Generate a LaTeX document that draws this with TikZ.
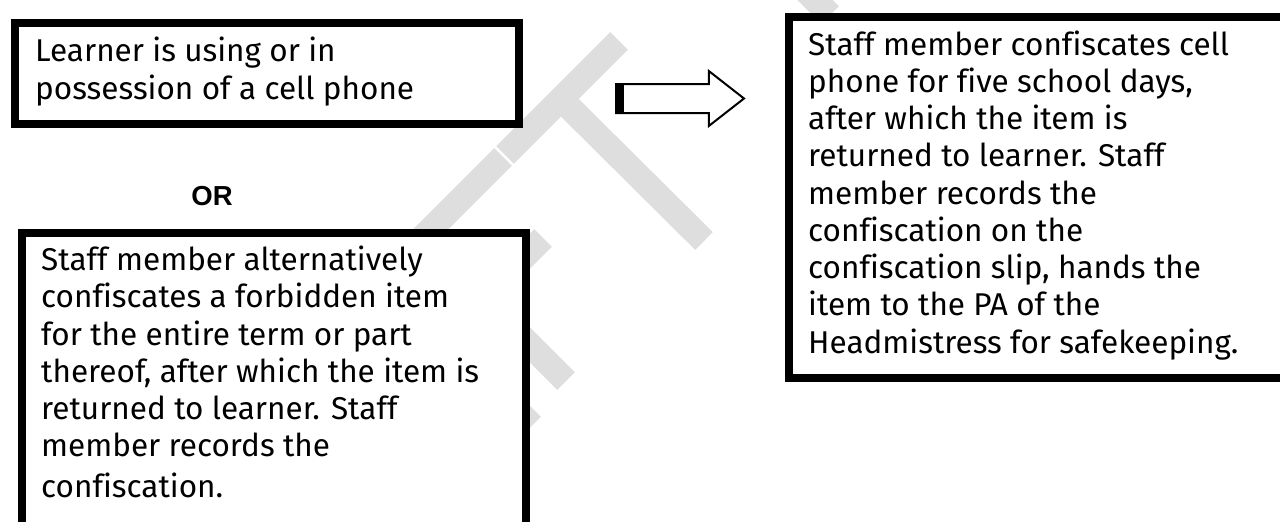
\documentclass[tikz,border=0pt]{standalone}
\usepackage{fontspec}
\setmainfont{Fira Sans}[Ligatures=NoCommon]
\newfontfamily\orfont{Liberation Sans}
\usetikzlibrary{shapes.arrows,calc}

\definecolor{wmgray}{RGB}{222,222,222}

\begin{document}
\begin{tikzpicture}[
    x=1pt, y=-1pt,
    wm/.style={draw=wmgray, line width=25pt, line cap=butt},
    box/.style={draw, fill=white, line width=8pt, rectangle, anchor=north west, inner sep=0pt},
    txt/.style={anchor=base west, align=left, inner sep=0pt,
                font=\fontsize{31.5}{37.25}\selectfont},
    blockarrow/.style={single arrow, draw, fill=white, line width=2pt,
                       inner xsep=0pt, inner ysep=13.5pt, minimum height=128pt,
                       single arrow head extend=13pt, single arrow tip angle=76}
  ]
    \useasboundingbox (0,0) rectangle (1280,522);

    % Watermark strokes
    \draw[wm] (619,41) -- (505,155);
    \draw[wm] (503,157) -- (400,260);
    \draw[wm] (561,99) -- (704,241);
    \draw[wm] (543,238) -- (440,341);
    \draw[wm] (566,381) -- (470,285);
    \draw[wm] (532,408) -- (450,490);
    \draw[wm] (800,-15) -- (830,15);

    % Boxes
    \node[box, minimum width=504pt, minimum height=101pt] (phone) at (11,19) {};
    \node[box, minimum width=504pt, minimum height=340pt] (alt) at (17.5,229) {};
    \node[box, minimum width=520pt, minimum height=361pt] (confisc) at (785,13) {};

    % Texts (anchored at the last baseline)
    \node[txt] (phonetxt) at (35,99) {Learner is using or in\\possession of a cell phone};
    \node[anchor=base, inner sep=0pt, font=\orfont\bfseries\fontsize{27.5}{30}\selectfont] (or) at (212,205) {OR};
    \node[txt] (alttxt) at (41,497) {Staff member alternatively\\confiscates a forbidden item\\for the entire term or part\\thereof, after which the item is\\returned to learner. Staff\\member records the\\[3pt]confiscation.};
    \node[txt] (confisctxt) at (808,353) {Staff member confiscates cell\\phone for five school days,\\after which the item is\\returned to learner. Staff\\member records the\\confiscation on the\\confiscation slip, hands the\\item to the PA of the\\Headmistress for safekeeping.};

    % Arrow
    \node[blockarrow, anchor=tail] (arr) at (615,98.5) {};
    \fill (arr.before tail) rectangle ($(arr.after tail)+(9,0)$);
  \end{tikzpicture}
\end{document}
